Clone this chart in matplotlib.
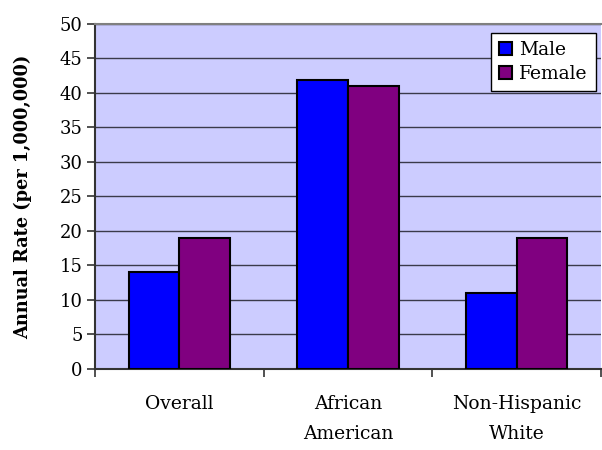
import matplotlib.pyplot as plt
import numpy as np

# Annual incidence rate per 1,000,000 by group and sex
groups = ["Overall", "African\nAmerican", "Non-Hispanic\nWhite"]
male = [14, 41.8, 11]
female = [19, 41, 19]

plt.rcParams['font.family'] = ['DejaVu Serif']

fig = plt.figure(figsize=(6.02, 4.5), dpi=100)
ax = fig.add_axes([0.158, 0.18, 0.84, 0.767])
ax.set_facecolor('#CCCCFF')

x = np.arange(len(groups))
w = 0.3
ax.bar(x - w / 2, male, w, color='#0000FF', edgecolor='black', linewidth=1.5, label='Male', zorder=3)
ax.bar(x + w / 2, female, w, color='#800080', edgecolor='black', linewidth=1.5, label='Female', zorder=3)

ax.set_xlim(-0.5, 2.5)
ax.set_ylim(0, 50)
ax.set_yticks(range(0, 51, 5))
ax.yaxis.grid(True, color='#3a3a4a', linewidth=1.0, zorder=1)
ax.set_axisbelow(True)

# category labels sit between the boundary ticks
ax.set_xticks([-0.5, 0.5, 1.5, 2.5])
ax.set_xticklabels([])
ax.set_xticks(x, minor=True)
ax.set_xticklabels(groups, minor=True, fontsize=13.5, linespacing=1.85)
ax.tick_params(axis='x', which='minor', length=0, pad=19)
ax.tick_params(axis='x', which='major', length=6, width=1.2, color='#333333')
ax.tick_params(axis='y', length=6, width=1.2, color='#333333', labelsize=13, pad=3)

for s in ['left', 'bottom']:
    ax.spines[s].set_color('#333333')
    ax.spines[s].set_linewidth(1.5)
ax.spines['top'].set_color('#808080')
ax.spines['top'].set_linewidth(1.5)
ax.spines['right'].set_visible(False)

ax.set_ylabel('Annual Rate (per 1,000,000)', fontsize=12.8, fontweight='bold', labelpad=20)

leg = ax.legend(loc='upper right', bbox_to_anchor=(0.99, 0.974), borderaxespad=0, fontsize=13.5,
                fancybox=False, framealpha=1, edgecolor='black', borderpad=0.45,
                handlelength=0.7, handleheight=0.7, handletextpad=0.35, labelspacing=0.3)
leg.get_frame().set_linewidth(1.0)

fig.savefig('out.png', dpi=100)
